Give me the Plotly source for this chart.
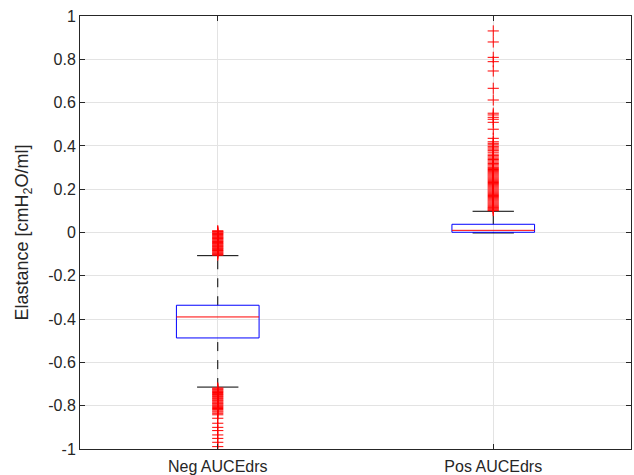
import plotly.graph_objects as go

# ---------------- data ----------------
categories = ["Neg AUCEdrs", "Pos AUCEdrs"]
positions = [1, 2]
q1 = [-0.487, 0.001]
medians = [-0.390, 0.010]
q3 = [-0.336, 0.038]
lower_whisker = [-0.714, -0.002]
upper_whisker = [-0.107, 0.098]

neg_outliers = [
    0.008, 0.005, 0.002, -0.002, -0.005, -0.009, -0.013, -0.017, -0.021,
    -0.024, -0.028, -0.031, -0.035, -0.039, -0.042, -0.046, -0.050, -0.053,
    -0.057, -0.061, -0.064, -0.068, -0.072, -0.075, -0.079, -0.083, -0.086,
    -0.090, -0.094, -0.098, -0.101, -0.105,
    -0.718, -0.722, -0.726, -0.731, -0.735, -0.739, -0.744, -0.748, -0.752,
    -0.757, -0.761, -0.766, -0.770, -0.775, -0.779, -0.784, -0.789, -0.793,
    -0.798, -0.803, -0.808, -0.813, -0.818, -0.824, -0.829, -0.835, -0.842,
    -0.858, -0.881, -0.900, -0.915, -0.935, -0.951, -0.969, -0.989, -1.003,
]
pos_outliers = [
    0.931, 0.880, 0.809, 0.789, 0.746, 0.666, 0.612, 0.551, 0.543, 0.532,
    0.523, 0.509, 0.477, 0.435, 0.419, 0.412, 0.405, 0.398, 0.391, 0.385,
    0.378, 0.371, 0.362, 0.355, 0.349, 0.343, 0.337, 0.331, 0.325, 0.319,
    0.313, 0.307, 0.301, 0.296, 0.291, 0.286, 0.281, 0.276, 0.271, 0.266,
    0.261, 0.256, 0.251, 0.246, 0.241, 0.236, 0.231, 0.226, 0.221, 0.216,
    0.211, 0.206, 0.201, 0.196, 0.191, 0.186, 0.181, 0.176, 0.171, 0.166,
    0.161, 0.156, 0.151, 0.146, 0.141, 0.136, 0.131, 0.126, 0.121, 0.116,
    0.112, 0.108, 0.104, 0.101,
]
outliers = [neg_outliers, pos_outliers]

y_tickvals = [-1, -0.8, -0.6, -0.4, -0.2, 0, 0.2, 0.4, 0.6, 0.8, 1]
y_ticktext = ["-1", "-0.8", "-0.6", "-0.4", "-0.2", "0", "0.2", "0.4", "0.6", "0.8", "1"]

# ---------------- style ----------------
box_w = 0.3
cap_w = 0.15
text_color = "#262626"
grid_color = "#e3e3e3"
font = "Liberation Sans, Arial, sans-serif"

fig = go.Figure()

for p, a, m, b, lw, uw, out in zip(positions, q1, medians, q3, lower_whisker, upper_whisker, outliers):
    # whiskers (dashed)
    fig.add_trace(go.Scatter(x=[p, p], y=[b, uw], mode="lines",
                             line=dict(color="black", width=1, dash="dash"),
                             hoverinfo="skip", showlegend=False))
    fig.add_trace(go.Scatter(x=[p, p], y=[lw, a], mode="lines",
                             line=dict(color="black", width=1, dash="dash"),
                             hoverinfo="skip", showlegend=False))
    # caps
    for v in (uw, lw):
        fig.add_trace(go.Scatter(x=[p - cap_w / 2, p + cap_w / 2], y=[v, v], mode="lines",
                                 line=dict(color="black", width=1),
                                 hoverinfo="skip", showlegend=False))
    # box
    fig.add_trace(go.Scatter(x=[p - box_w / 2, p + box_w / 2, p + box_w / 2, p - box_w / 2, p - box_w / 2],
                             y=[a, a, b, b, a], mode="lines",
                             line=dict(color="blue", width=1),
                             hoverinfo="skip", showlegend=False))
    # median
    fig.add_trace(go.Scatter(x=[p - box_w / 2, p + box_w / 2], y=[m, m], mode="lines",
                             line=dict(color="red", width=1),
                             hoverinfo="skip", showlegend=False))
    # outliers
    fig.add_trace(go.Scatter(x=[p] * len(out), y=out, mode="markers",
                             marker=dict(symbol="cross-thin", size=8,
                                         line=dict(color="red", width=1), color="red"),
                             hoverinfo="skip", showlegend=False))

fig.update_layout(
    width=634, height=475,
    margin=dict(l=80, r=3, t=16, b=26),
    paper_bgcolor="white", plot_bgcolor="white",
    font=dict(family=font, size=16, color=text_color),
    showlegend=False,
)
fig.update_xaxes(
    range=[0.5, 2.5], tickvals=positions, ticktext=categories,
    showgrid=True, gridcolor=grid_color, gridwidth=1,
    showline=True, linecolor="#262626", linewidth=1, mirror="allticks",
    ticks="inside", ticklen=5, tickcolor="#262626",
    zeroline=False, tickfont=dict(size=16, color=text_color),
    ticklabelstandoff=3, automargin=False,
)
fig.update_yaxes(
    range=[-1, 1], tickvals=y_tickvals, ticktext=y_ticktext,
    showgrid=True, gridcolor=grid_color, gridwidth=1,
    showline=True, linecolor="#262626", linewidth=1, mirror="allticks",
    ticks="inside", ticklen=5, tickcolor="#262626",
    zeroline=False, tickfont=dict(size=16, color=text_color),
    automargin=False,
    title=dict(text="Elastance [cmH<sub>2</sub>O/ml]", font=dict(size=18, color=text_color), standoff=14),
)

fig.write_html("out.html")
